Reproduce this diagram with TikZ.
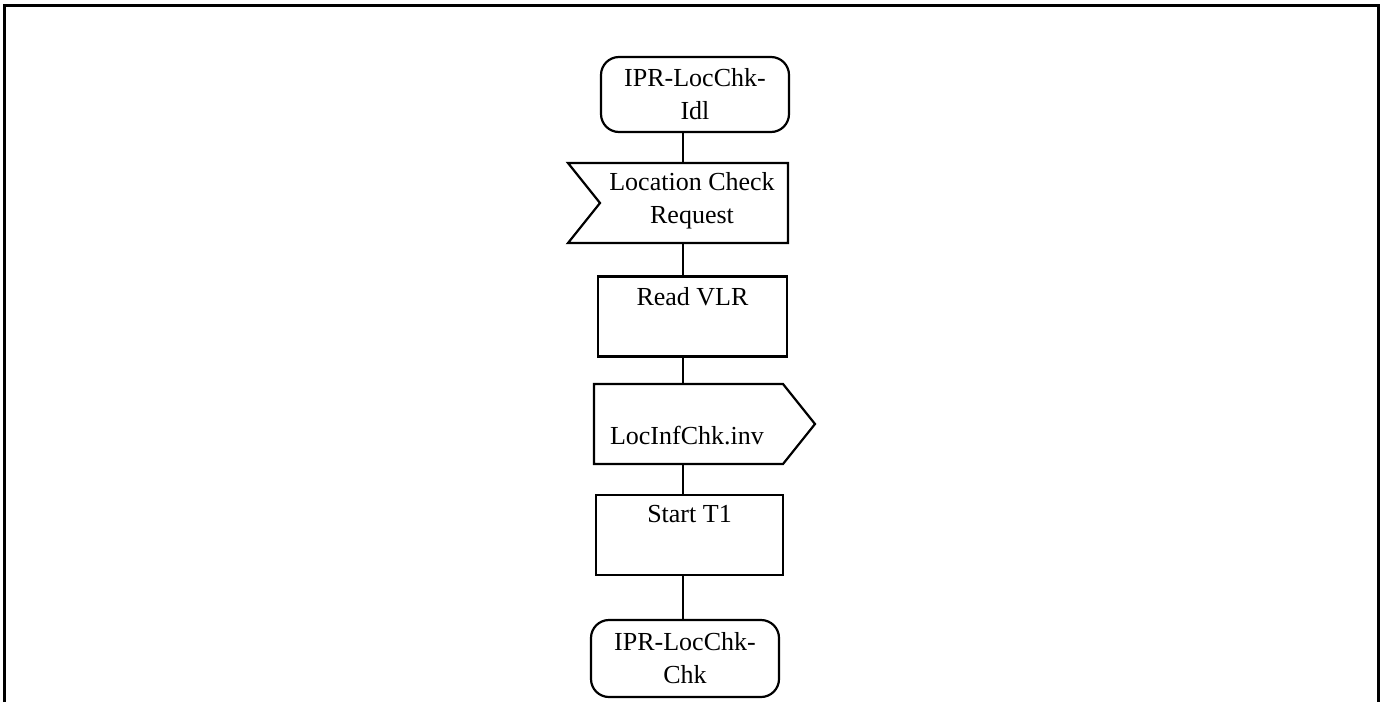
\documentclass[tikz,border=0pt]{standalone}
\usepackage{fontspec}
\setmainfont{Liberation Serif}
\usetikzlibrary{positioning, calc}

\newcommand{\sdlfont}{\fontsize{26}{33}\selectfont}

\begin{document}
\begin{tikzpicture}[x=1pt, y=-1pt, line width=2.2pt, outer sep=0pt,
  state/.style={draw, rounded corners=18pt, minimum width=188pt,
    minimum height=76pt, align=center, inner sep=2pt, font=\sdlfont},
  taskbox/.style={draw, minimum height=80pt, inner sep=0pt},
  sigbox/.style={minimum height=80pt, inner sep=0pt},
  lbl/.style={inner sep=0pt, align=center, font=\sdlfont}]

\useasboundingbox (0,0) rectangle (1387,702);

% Frame (open at the bottom)
\draw[line width=3pt] (4.5,702) -- (4.5,5) -- (1378.5,5) -- (1378.5,702);

% Spine of the flow
\coordinate (spine) at (683,0);

% --- States ---
\node[state, minimum height=75pt] (idl) at (695,94.5) {IPR-LocChk-\\Idl};
\node[state, minimum height=77pt] (chk) at (685,658.5) {IPR-LocChk-\\Chk};

% --- Input signal ---
\node[sigbox, minimum width=220pt] (lcreq) at (678,203) {};
\draw (lcreq.north west) -- (lcreq.north east) -- (lcreq.south east)
  -- (lcreq.south west) -- ($(lcreq.west)+(32,0)$) -- cycle;
\node[lbl] (lcreqtxt) at (692,201) {Location Check\\Request};

% --- Task: read VLR ---
\node[taskbox, minimum width=189pt] (rdvlr) at (692.5,316.5) {};
\node[lbl, below=11pt of rdvlr.north] (rdvlrtxt) {Read VLR};

% --- Output signal ---
\node[sigbox, minimum width=221pt] (locinf) at (704.5,424) {};
\draw (locinf.north west) -- ($(locinf.north east)+(-32,0)$) -- (locinf.east)
  -- ($(locinf.south east)+(-32,0)$) -- (locinf.south west) -- cycle;
\node[lbl, anchor=west] (locinftxt) at ($(locinf.west)+(16,12)$) {LocInfChk.inv};

% --- Task: start timer ---
\node[taskbox, minimum width=187pt] (startt) at (689.5,535) {};
\node[lbl, below=10pt of startt.north] (starttxt) {Start T1};

% --- Connectors ---
\foreach \a/\b in {idl/lcreq, lcreq/rdvlr, rdvlr/locinf, locinf/startt, startt/chk}
  \draw (\a.south -| spine) -- (\b.north -| spine);

\end{tikzpicture}
\end{document}
